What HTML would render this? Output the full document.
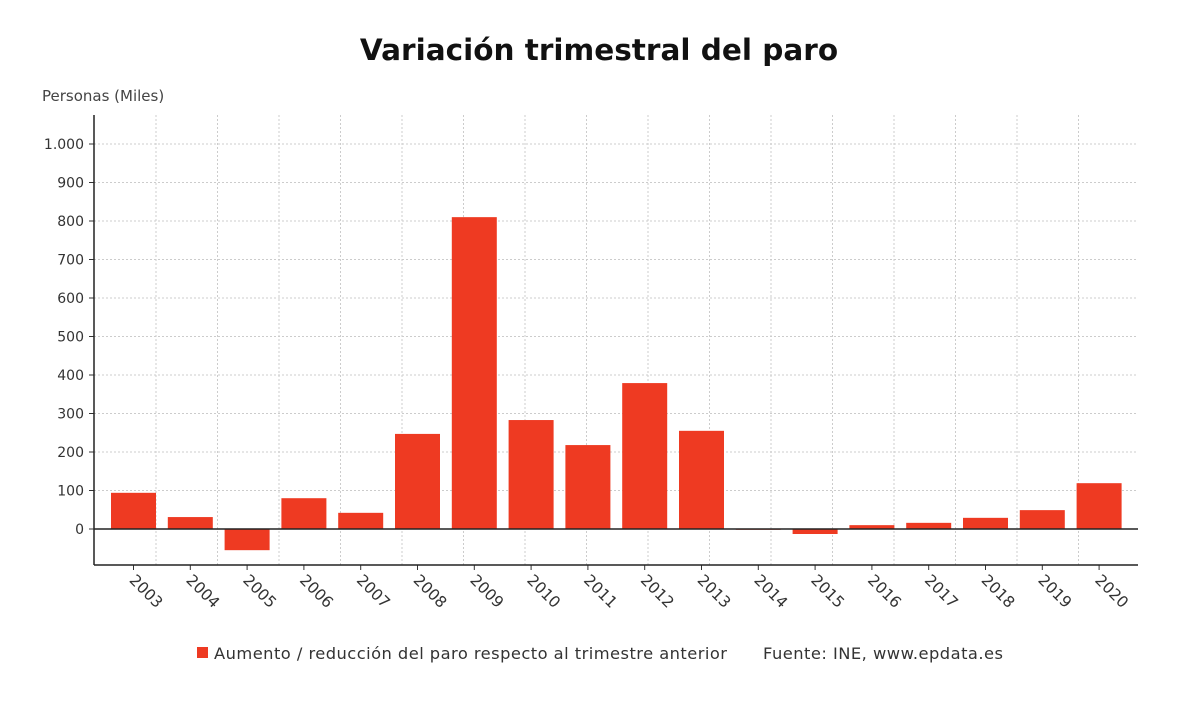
<!DOCTYPE html>
<html><head><meta charset="utf-8"><style>
body{margin:0;background:#fff;font-family:"DejaVu Sans","Liberation Sans",sans-serif;}
</style></head><body>
<svg width="1200" height="703" viewBox="0 0 1200 703" xmlns="http://www.w3.org/2000/svg">
<text x="599" y="60" text-anchor="middle" font-size="29.5" font-weight="bold" fill="#111">Variación trimestral del paro</text>
<text x="42" y="101" font-size="15" fill="#444">Personas (Miles)</text>
<g id="grid"></g>
<g id="bars"></g>
<g id="axes"></g>
<rect x="197" y="647" width="11" height="11" fill="#ee3a22"/>
<text x="214" y="659" font-size="16.3" fill="#333" textLength="513">Aumento / reducción del paro respecto al trimestre anterior</text>
<text x="763" y="659" font-size="16.3" fill="#333" textLength="240">Fuente: INE, www.epdata.es</text>
</svg>
<script>
const categories=["2003","2004","2005","2006","2007","2008","2009","2010","2011","2012","2013","2014","2015","2016","2017","2018","2019","2020"];
const values=[94,31,-55,80,42,247,810,283,218,379,255,-2,-13,10,16,29,49,119];
const yTicks=[0,100,200,300,400,500,600,700,800,900,1000];
const yTickLabels=["0","100","200","300","400","500","600","700","800","900","1.000"];
const NS="http://www.w3.org/2000/svg";
const X0=94,X1=1138,YT=115,YB=565;
function y(v){return 529-v*0.385;}
function xc(i){return 133.5+i*56.8;}
function mk(t,a,p){const e=document.createElementNS(NS,t);for(const k in a)e.setAttribute(k,a[k]);p.appendChild(e);return e;}
const grid=document.getElementById('grid'),bars=document.getElementById('bars'),axes=document.getElementById('axes');
for(let gx=156;gx<X1;gx+=61.5){const l=mk('line',{x1:gx,x2:gx,y1:YT,y2:YB,stroke:'#ccc','stroke-dasharray':'2,2'},grid);

}
yTicks.forEach((v,k)=>{
 if(v!==0){const l=mk('line',{x1:X0,x2:X1,y1:y(v),y2:y(v),stroke:'#ccc','stroke-dasharray':'2,2'},grid);
 
 }
 mk('line',{x1:X0-5,x2:X0,y1:y(v),y2:y(v),stroke:'#333'},axes);
 const t=mk('text',{x:X0-10,y:y(v)+5,'text-anchor':'end','font-size':14,fill:'#333'},axes);t.textContent=yTickLabels[k];
 
 
});
values.forEach((v,i)=>{
 const r=mk('rect',{x:xc(i)-22.5,width:45,y:Math.min(y(v),y(0)),height:Math.abs(y(v)-y(0)),fill:'#ee3a22'},bars);
 
 
 mk('line',{x1:xc(i),x2:xc(i),y1:YB,y2:YB+5,stroke:'#333'},axes);
 const t=mk('text',{x:0,y:0,'font-size':15.5,fill:'#333',transform:`translate(${xc(i)-5},${YB+16}) rotate(45)`},axes);t.textContent=categories[i];
 
 
});
mk('line',{x1:X0,x2:X1,y1:y(0),y2:y(0),stroke:'#222','stroke-width':1.5},axes);
mk('line',{x1:X0,x2:X0,y1:YT,y2:YB,stroke:'#222','stroke-width':1.5},axes);
mk('line',{x1:X0,x2:X1,y1:YB,y2:YB,stroke:'#222','stroke-width':1.5},axes);
</script>
</body></html>
